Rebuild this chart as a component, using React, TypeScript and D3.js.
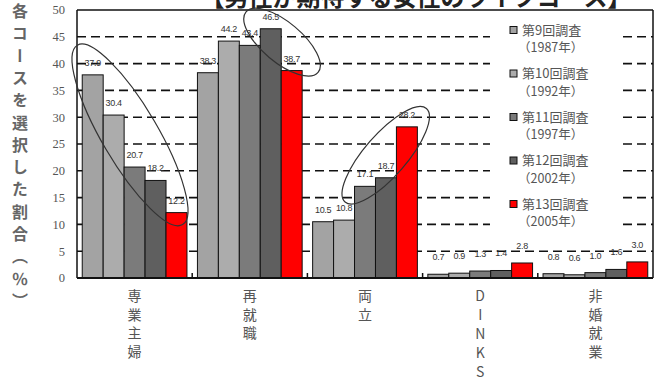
import React from "react";
import * as d3 from "d3";

const categories = ["専業主婦", "再就職", "両立", "DINKS", "非婚就業"];
const seriesNames = ["第9回調査", "第10回調査", "第11回調査", "第12回調査", "第13回調査"];
const seriesYears = ["（1987年）", "（1992年）", "（1997年）", "（2002年）", "（2005年）"];
const s1987 = [37.9, 38.3, 10.5, 0.7, 0.8];
const s1992 = [30.4, 44.2, 10.8, 0.9, 0.6];
const s1997 = [20.7, 43.4, 17.1, 1.3, 1.0];
const s2002 = [18.2, 46.5, 18.7, 1.4, 1.6];
const s2005 = [12.2, 38.7, 28.2, 2.8, 3.0];
const seriesValues = [s1987, s1992, s1997, s2002, s2005];
const yTicks = [0, 5, 10, 15, 20, 25, 30, 35, 40, 45, 50];
const gridTicks = [5, 10, 15, 20, 25, 30, 35, 40, 45];
const title = "【男性が期待する女性のライフコース】";
const yTitle = "各コースを選択した割合（％）";

const colors = ["#a3a3a3", "#acacac", "#7b7b7b", "#5f5f5f", "#ff0000"];

// annotation ellipses: category index, fraction across band, value at centre
const ellipseAnchors = [
  { cat: 0, frac: 0.46, value: 26.7, rx: 104, ry: 28, angle: 59.6 },
  { cat: 1, frac: 0.78, value: 44.0, rx: 47, ry: 20, angle: 40 },
  { cat: 2, frac: 0.68, value: 22.9, rx: 62, ry: 21, angle: -49 },
];

export default function App() {
  const W = 659, H = 383;
  const left = 77, right = 653, top = 10, bottom = 278;
  const x0 = d3.scaleBand<string>().domain(categories).range([left, right]).paddingInner(0).paddingOuter(0);
  const x1 = d3.scaleBand<number>().domain(d3.range(seriesNames.length)).range([0, x0.bandwidth()]).paddingInner(0).paddingOuter(0.25);
  const y = d3.scaleLinear().domain([0, 50]).range([bottom, top]);

  const legendX = 510;
  const legendY0 = 30;
  const legendStep = 43.5;

  return (
    <svg width={W} height={H} style={{ position: "absolute", left: 0, top: 0, background: "#fff" }}>
      <rect x={0} y={0} width={W} height={H} fill="#fff" />
      {/* title (clipped at top) */}
      <text x={416} y={6} textAnchor="middle" fontFamily="'Noto Sans CJK JP'" fontWeight="bold" fontSize={24} fill="#222">{title}</text>

      {/* gridlines */}
      {gridTicks.map((t) => (
        <line key={t} x1={left} x2={right} y1={y(t)} y2={y(t)} stroke="#111" strokeWidth={1.6} strokeDasharray="9,5" />
      ))}

      {/* legend background */}
      <rect x={490} y={14} width={132} height={222} fill="#fff" />

      {/* bars */}
      {categories.map((c, ci) => (
        <g key={c}>
          {seriesValues.map((vals, si) => {
            const bx = (x0(c) as number) + (x1(si) as number);
            const v = vals[ci];
            return (
              <rect key={si} x={bx} y={y(v)} width={x1.bandwidth()} height={bottom - y(v)} fill={colors[si]} stroke="#111" strokeWidth={1} />
            );
          })}
        </g>
      ))}

      {/* data labels */}
      {categories.map((c, ci) => (
        <g key={"l" + c}>
          {seriesValues.map((vals, si) => {
            const bx = (x0(c) as number) + (x1(si) as number) + x1.bandwidth() / 2;
            const v = vals[ci];
            return (
              <text key={si} x={bx} y={y(v) - (v < 5 ? 14 : 9)} textAnchor="middle" fontFamily="'Liberation Sans', Arial" fontSize={9} fill="#333" letterSpacing={-0.3}>
                {v.toFixed(1)}
              </text>
            );
          })}
        </g>
      ))}

      {/* frame */}
      <line x1={left} x2={right} y1={top} y2={top} stroke="#111" strokeWidth={1.5} />
      <line x1={left} x2={left} y1={top} y2={bottom} stroke="#111" strokeWidth={1.5} />
      <line x1={right} x2={right} y1={top} y2={bottom} stroke="#111" strokeWidth={1.5} />
      <line x1={left} x2={right} y1={bottom} y2={bottom} stroke="#111" strokeWidth={2} />
      {categories.slice(1).map((c) => (
        <line key={"t" + c} x1={x0(c) as number} x2={x0(c) as number} y1={bottom} y2={bottom - 5} stroke="#111" strokeWidth={1.5} />
      ))}

      {/* ellipses */}
      {ellipseAnchors.map((e, i) => {
        const cx = (x0(categories[e.cat]) as number) + e.frac * x0.bandwidth();
        const cy = y(e.value);
        return (
          <ellipse key={i} cx={cx} cy={cy} rx={e.rx} ry={e.ry} transform={`rotate(${e.angle} ${cx} ${cy})`} fill="none" stroke="#333" strokeWidth={1.2} />
        );
      })}

      {/* y tick labels */}
      {yTicks.map((t) => (
        <text key={t} x={65} y={y(t)} dy="0.35em" textAnchor="end" fontFamily="'Liberation Serif', serif" fontSize={12.5} fill="#555">{t}</text>
      ))}

      {/* y title vertical */}
      <text x={20} y={3} fontFamily="'Noto Sans CJK JP'" fontSize={16} fontWeight="bold" fill="#666" letterSpacing={6.3}
        style={{ writingMode: "vertical-rl" as any }}>
        {yTitle}
      </text>

      {/* category labels vertical */}
      {categories.map((c) => (
        <text key={"c" + c} x={(x0(c) as number) + x0.bandwidth() / 2} y={289} fontFamily="'Noto Sans CJK JP'" fontSize={14} fill="#555"
          letterSpacing={c === "DINKS" ? 5 : 4.5}
          style={{ writingMode: "vertical-rl" as any, textOrientation: "upright" as any }}>
          {c}
        </text>
      ))}

      {/* legend */}
      {seriesNames.map((s, i) => {
        const ly = legendY0 + i * legendStep;
        return (
          <g key={"lg" + i}>
            <rect x={legendX} y={ly - 3.5} width={7} height={7} fill={colors[i]} stroke="#111" strokeWidth={1} />
            <text x={522} y={ly} dy="0.35em" fontFamily="'Noto Sans CJK JP'" fontSize={13} fill="#555">{s}</text>
            <text x={518} y={ly + 18} dy="0.35em" fontFamily="'Noto Sans CJK JP'" fontSize={12.5} fill="#555">{seriesYears[i]}</text>
          </g>
        );
      })}
    </svg>
  );
}
